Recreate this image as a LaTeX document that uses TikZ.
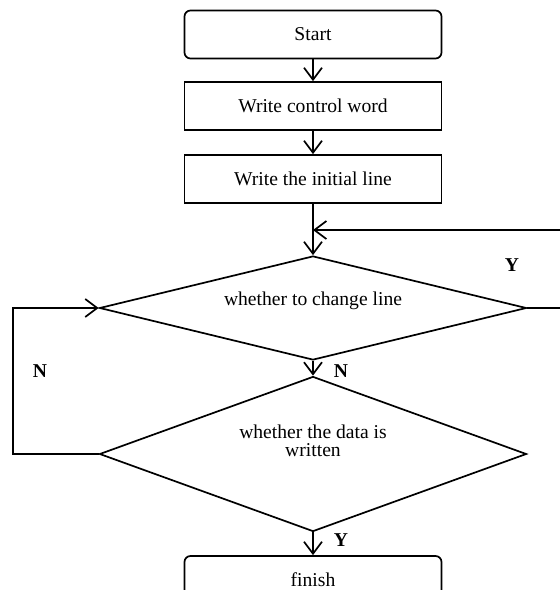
\documentclass[tikz,border=0pt]{standalone}
\usepackage{fontspec}
\setmainfont{Liberation Serif}
\usetikzlibrary{shapes.geometric,arrows.meta}
\begin{document}
\begin{tikzpicture}[x=1pt,y=-1pt,
  line width=1.7pt,
  every node/.style={font=\fontsize{19.6}{20}\selectfont},
  flow/.style={-{Straight Barb[length=12pt,width=18pt]}},
  termbox/.style={draw,rounded corners=6pt,minimum width=257pt,minimum height=48pt,inner sep=0pt},
  procbox/.style={draw,minimum width=257pt,minimum height=48pt,inner sep=0pt},
  decide/.style={draw,diamond,inner sep=0pt,align=center},
  tag/.style={font=\fontsize{19.6}{20}\selectfont\bfseries}]
\useasboundingbox (0,0) rectangle (560,590);
\clip (0,0) rectangle (560,590);

% process steps
\node[termbox] (start) at (313,34.5) {Start};
\node[procbox] (cword) at (313,106) {Write control word};
\node[procbox] (iline) at (313,179) {Write the initial line};

% decisions
\node[decide,aspect=4.1,minimum width=427pt,minimum height=104pt] (chg) at (313,308)
  {\raisebox{19pt}{whether to change line}};
\node[decide,aspect=2.75,minimum width=427pt,minimum height=155pt] (done) at (313,454)
  {\raisebox{34pt}{\begin{tabular}{@{}c@{}}whether the data is\\[-2pt] written\end{tabular}}};

% end
\node[termbox] (finish) at (313,580) {finish};

% loop helper points
\coordinate (join) at (313,230);
\coordinate (rloop) at (575,230);
\coordinate (lloop) at (13,308);

% connectors
\draw[flow] (start) -- (cword);
\draw[flow] (cword) -- (iline);
\draw[flow] (iline) -- (chg.north);
\draw[flow] (chg.east) -| (rloop) -- (join);
\draw[flow] (chg.south) -- (done.north);
\draw[flow] (done.west) -| (lloop) -- (chg.west);
\draw[flow] (done.south) -- (finish.north);

% branch labels
\node[tag] (ychg) at (512,265) {Y};
\node[tag] (nchg) at (341,371) {N};
\node[tag] (ndone) at (40,371) {N};
\node[tag] (ydone) at (341,540) {Y};
\end{tikzpicture}
\end{document}
